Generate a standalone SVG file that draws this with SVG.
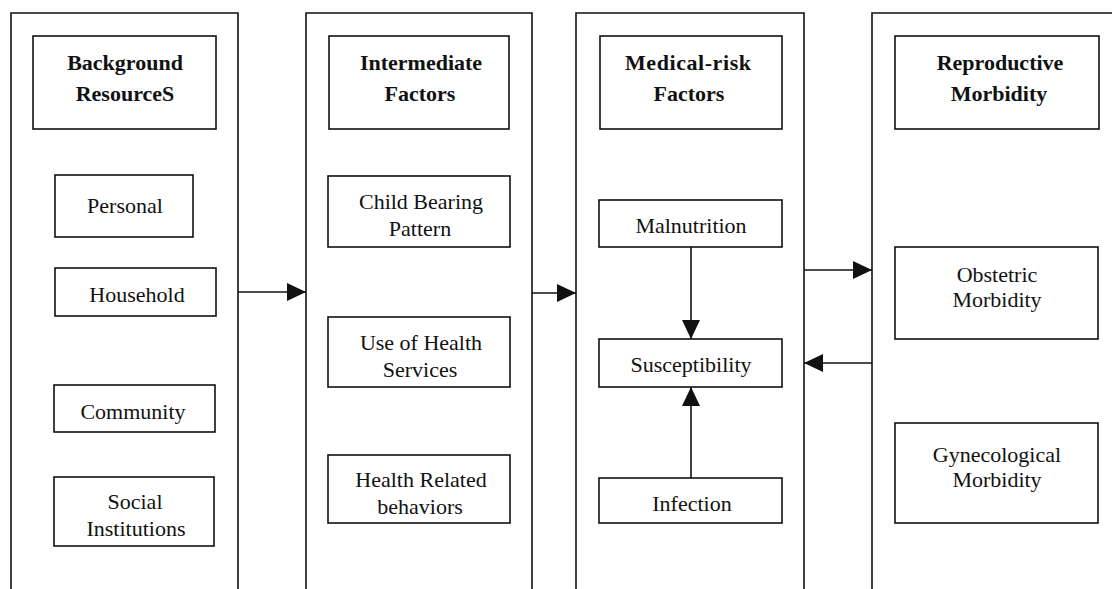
<svg xmlns="http://www.w3.org/2000/svg" width="1112" height="589" viewBox="0 0 1112 589">
  <style>
    .col { fill: none; stroke: #111; stroke-width: 1.6; }
    .box { fill: #fff; stroke: #111; stroke-width: 1.6; }
    .lbl { font-family: "Liberation Serif", "Times New Roman", serif; font-size: 22px; fill: #111; text-anchor: middle; }
    .ttl { font-family: "Liberation Serif", "Times New Roman", serif; font-size: 22px; font-weight: bold; fill: #111; text-anchor: middle; }
    .conn { fill: none; stroke: #111; stroke-width: 1.6; marker-end: url(#arrow); }
  </style>
  <defs>
    <marker id="arrow" markerUnits="userSpaceOnUse" markerWidth="20" markerHeight="20" refX="19" refY="9" orient="auto">
      <path d="M0,0 L19,9 L0,18 Z" fill="#111"/>
    </marker>
  </defs>
  <rect width="1112" height="589" fill="#fff"/>

  <!-- column frames (open at the bottom) -->
  <g id="col-background">
    <path class="col" d="M11,589 V13 H238 V589"/>
    <g id="title-background">
      <rect class="box" x="33" y="36" width="183" height="93"/>
      <text class="ttl" x="125" y="70">Background</text>
      <text class="ttl" x="125" y="101">ResourceS</text>
    </g>
    <g id="personal">
      <rect class="box" x="55" y="175" width="138" height="62"/>
      <text class="lbl" x="125" y="213">Personal</text>
    </g>
    <g id="household">
      <rect class="box" x="55" y="268" width="161" height="48"/>
      <text class="lbl" x="137" y="302">Household</text>
    </g>
    <g id="community">
      <rect class="box" x="54" y="385" width="161" height="47"/>
      <text class="lbl" x="133" y="419">Community</text>
    </g>
    <g id="social-institutions">
      <rect class="box" x="54" y="477" width="160" height="69"/>
      <text class="lbl" x="135" y="509">Social</text>
      <text class="lbl" x="136" y="536">Institutions</text>
    </g>
  </g>

  <g id="col-intermediate">
    <path class="col" d="M306,589 V13 H532 V589"/>
    <g id="title-intermediate">
      <rect class="box" x="329" y="36" width="180" height="93"/>
      <text class="ttl" x="421" y="70">Intermediate</text>
      <text class="ttl" x="420" y="101">Factors</text>
    </g>
    <g id="child-bearing">
      <rect class="box" x="328" y="176" width="182" height="71"/>
      <text class="lbl" x="421" y="209">Child Bearing</text>
      <text class="lbl" x="420" y="236">Pattern</text>
    </g>
    <g id="health-services">
      <rect class="box" x="328" y="317" width="182" height="70"/>
      <text class="lbl" x="421" y="350">Use of Health</text>
      <text class="lbl" x="420" y="377">Services</text>
    </g>
    <g id="health-behaviors">
      <rect class="box" x="328" y="455" width="182" height="68"/>
      <text class="lbl" x="421" y="487">Health Related</text>
      <text class="lbl" x="420" y="514">behaviors</text>
    </g>
  </g>

  <g id="col-medical">
    <path class="col" d="M576,589 V13 H804 V589"/>
    <g id="title-medical">
      <rect class="box" x="600" y="36" width="182" height="93"/>
      <text class="ttl" x="688" y="70" textLength="126" lengthAdjust="spacing">Medical-risk</text>
      <text class="ttl" x="689" y="101">Factors</text>
    </g>
    <g id="malnutrition">
      <rect class="box" x="599" y="200" width="183" height="47"/>
      <text class="lbl" x="691" y="233">Malnutrition</text>
    </g>
    <g id="susceptibility">
      <rect class="box" x="599" y="339" width="183" height="48"/>
      <text class="lbl" x="691" y="372">Susceptibility</text>
    </g>
    <g id="infection">
      <rect class="box" x="599" y="478" width="183" height="45"/>
      <text class="lbl" x="692" y="511">Infection</text>
    </g>
  </g>

  <g id="col-morbidity">
    <path class="col" d="M872,589 V13 H1113"/>
    <g id="title-morbidity">
      <rect class="box" x="895" y="36" width="204" height="93"/>
      <text class="ttl" x="1000" y="70">Reproductive</text>
      <text class="ttl" x="999" y="101">Morbidity</text>
    </g>
    <g id="obstetric">
      <rect class="box" x="895" y="247" width="203" height="92"/>
      <text class="lbl" x="997" y="282">Obstetric</text>
      <text class="lbl" x="997" y="307">Morbidity</text>
    </g>
    <g id="gynecological">
      <rect class="box" x="895" y="423" width="203" height="100"/>
      <text class="lbl" x="997" y="462">Gynecological</text>
      <text class="lbl" x="997" y="487">Morbidity</text>
    </g>
  </g>

  <!-- connectors -->
  <g id="connectors">
    <line class="conn" x1="238" y1="292" x2="306" y2="292"/>
    <line class="conn" x1="532" y1="293" x2="576" y2="293"/>
    <line class="conn" x1="691" y1="247" x2="691" y2="339"/>
    <line class="conn" x1="691" y1="478" x2="691" y2="387"/>
    <line class="conn" x1="804" y1="270" x2="872" y2="270"/>
    <line class="conn" x1="872" y1="363" x2="804" y2="363"/>
  </g>
</svg>
